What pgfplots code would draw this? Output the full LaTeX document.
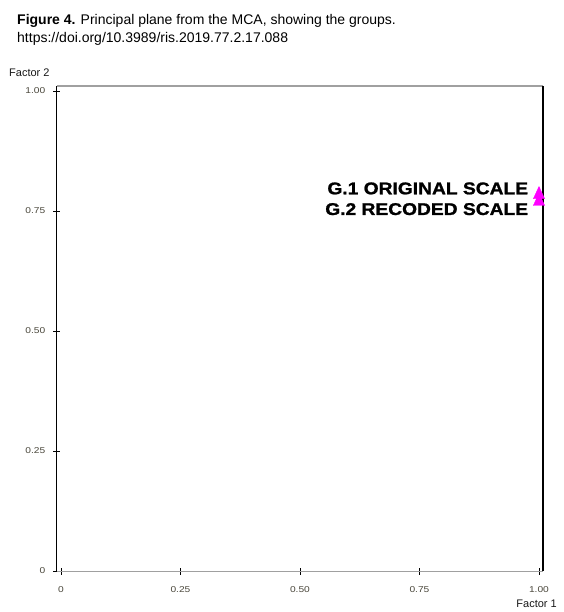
\documentclass[border=0pt]{standalone}
\usepackage{fontspec}
\setmainfont{Liberation Sans}
\newfontfamily\tickfont[FakeStretch=1.2]{Liberation Sans}
\newfontfamily\grpfont[FakeStretch=1.13,FakeBold=1.2]{Liberation Sans}
\usepackage{pgfplots}
\pgfplotsset{compat=1.18}
\definecolor{ticktext}{RGB}{75,72,60}
\definecolor{framegray}{RGB}{160,160,160}
\definecolor{groupmag}{RGB}{255,0,255}
\begin{document}
\begin{tikzpicture}
\useasboundingbox (0pt,0pt) rectangle (563pt,612pt);
\fill[white] (0pt,0pt) rectangle (563pt,612pt);
% caption
\node[anchor=base west, inner sep=0, font=\fontsize{14}{16}\selectfont] at (17pt,587.5pt)
  {\textbf{Figure 4.} Principal plane from the MCA, showing the groups.};
\node[anchor=base west, inner sep=0, font=\fontsize{14}{16}\selectfont] at (17pt,569.5pt)
  {https://doi.org/10.3989/ris.2019.77.2.17.088};
% axis titles
\node[anchor=base west, inner sep=0, font=\fontsize{11}{12}\selectfont, text=black!90] at (9pt,535pt) {Factor 2};
\node[anchor=base east, inner sep=0, font=\fontsize{11}{12}\selectfont, text=black!90] at (557pt,4.5pt) {Factor 1};
\begin{axis}[
  at={(56.5pt,40.5pt)}, anchor=south west,
  scale only axis, width=486.5pt, height=485.5pt,
  xmin=-0.0094, xmax=1.0084, ymin=-0.001, ymax=1.0104,
  axis line style={draw=none},
  xtick={0,0.25,0.5,0.75,1}, xticklabels={0,0.25,0.50,0.75,1.00},
  ytick={0,0.25,0.5,0.75,1}, yticklabels={0,0.25,0.50,0.75,1.00},
  xtick pos=bottom, ytick pos=left,
  tick align=center, major tick length=6.5pt,
  tick style={black, line width=0.8pt},
  /pgf/number format/assume math mode=true,
  tick label style={font=\tickfont\fontsize{8.5}{9}\selectfont, text=ticktext},
  xticklabel style={yshift=-8pt},
  yticklabel style={xshift=-4.5pt},
  clip=false,
]
% frame: grey top and bottom, black sides
\draw[framegray, line width=1.5pt] (rel axis cs:0,1) -- (rel axis cs:1,1);
\draw[framegray, line width=1.5pt] (rel axis cs:0,0) -- (rel axis cs:1,0);
\draw[black, line width=1.8pt] (rel axis cs:0,0) -- (rel axis cs:0,1);
\draw[black, line width=1.8pt] (rel axis cs:1,0) -- (rel axis cs:1,1);
% groups
\addplot[only marks, mark=triangle*, mark size=6.5pt,
  mark options={fill=groupmag, draw=groupmag, yscale=1.25}]
  coordinates {(1.0,0.784) (1.0,0.770)};
\node[anchor=base east, inner sep=0, font=\grpfont\bfseries\fontsize{17}{19}\selectfont]
  at (axis cs:0.9776,0.7848) {G.1 ORIGINAL SCALE};
\node[anchor=base east, inner sep=0, font=\grpfont\bfseries\fontsize{17}{19}\selectfont]
  at (axis cs:0.9776,0.7417) {G.2 RECODED SCALE};
\end{axis}
\end{tikzpicture}
\end{document}
